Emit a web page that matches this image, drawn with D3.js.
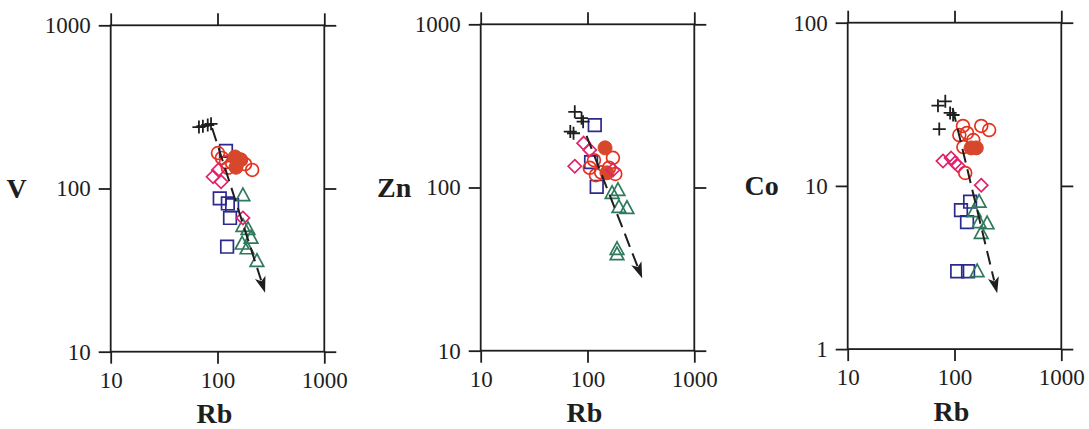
<!DOCTYPE html>
<html>
<head>
<meta charset="utf-8">
<script src="https://cdn.jsdelivr.net/npm/d3@7"></script>
<style>
  body { margin: 0; background: #fff; }
  svg { display: block; }
</style>
</head>
<body>
<svg id="chart"></svg>
<script>
// Tick labels
const rbTicks = [10, 100, 1000];
const vTicks = [10, 100, 1000];
const znTicks = [10, 100, 1000];
const coTicks = [1, 10, 100];

// V vs Rb  ([Rb, V])
const vPlus = [[67, 238], [73, 241], [81, 245], [87, 249]];
const vSquare = [[120, 170], [105, 87], [125, 81], [137, 79], [131, 66], [123, 44]];
const vCircle = [[101, 165], [110, 154], [120, 145], [137, 143], [166, 150], [181, 141], [211, 130], [125, 134]];
const vDot = [[146, 156], [162, 150], [149, 135]];
const vDiamond = [[102, 130], [91, 118], [108, 110], [173, 66]];
const vTriangle = [[173, 91], [173, 59], [193, 56.5], [206, 50], [170, 46], [189, 43], [234, 36]];
const vTrend = [[89, 235], [279, 23]];

// Zn vs Rb  ([Rb, Zn])
const znPlus = [[76, 291], [88, 266], [91, 253], [69, 220], [74, 215]];
const znSquare = [[117, 241], [108, 143], [122, 101]];
const znCircle = [[115, 147], [173, 152], [159, 132], [120, 119], [134, 124], [182, 121], [105, 132]];
const znDot = [[146, 175], [152, 123]];
const znDiamond = [[92, 187], [105, 170], [76, 135], [173, 128]];
const znTriangle = [[170, 92.5], [193, 96.5], [197, 76], [234, 75], [189, 42], [189, 39]];
const znTrend = [[98, 207], [325, 27.8]];

// Co vs Rb  ([Rb, Co])
const coPlus = [[70, 31], [82, 33], [91, 28], [97, 27.2], [72, 22.3]];
const coSquare = [[140, 8], [115, 7.1], [131, 6], [106, 3], [134, 3]];
const coCircle = [[120, 23.3], [178, 23.3], [211, 22], [111, 20.5], [131, 21.1], [150, 19.1], [121, 17.3], [126, 12]];
const coDot = [[143, 17.1], [160, 17.1]];
const coDiamond = [[78, 14.2], [93, 14.8], [101, 13.8], [108, 13.3], [178, 10.1]];
const coTriangle = [[170, 8], [153, 7], [170, 6], [202, 5.9], [178, 5.15], [163, 3]];
const coTrend = [[96, 30], [251, 2.2]];

const FONT = "Liberation Serif, serif";
const INK = "#1e1e1e";
const plotW = 213.6;
const plotH = 326.4;
const tickLen = 12;

const panels = [
  { left: 110.7, top: 25.3, ticks: vTicks, label: "V", labelDx: -94,
    plus: vPlus, square: vSquare, circle: vCircle, dot: vDot, diamond: vDiamond, triangle: vTriangle, trend: vTrend },
  { left: 480.7, top: 24.3, ticks: znTicks, label: "Zn", labelDx: -86.5,
    plus: znPlus, square: znSquare, circle: znCircle, dot: znDot, diamond: znDiamond, triangle: znTriangle, trend: znTrend },
  { left: 847.7, top: 22.7, ticks: coTicks, label: "Co", labelDx: -86,
    plus: coPlus, square: coSquare, circle: coCircle, dot: coDot, diamond: coDiamond, triangle: coTriangle, trend: coTrend },
];

const svg = d3.select("#chart").attr("width", 1089).attr("height", 429);

// marker shapes
const squarePath = (s) => `M${-s},${-s}H${s}V${s}H${-s}Z`;
const diamondPath = (s) => `M0,${-s}L${s},0L0,${s}L${-s},0Z`;
const trianglePath = (s) => `M0,${-s * 1.05}L${s},${s * 0.8}L${-s},${s * 0.8}Z`;
const plusPath = (s) => `M${-s},0H${s}M0,${-s}V${s}`;

panels.forEach((p) => {
  const g = svg.append("g").attr("transform", `translate(${p.left},${p.top})`);

  const x = d3.scaleLog().domain([10, 1000]).range([0, plotW]);
  const y = d3.scaleLog().domain([p.ticks[0], p.ticks[2]]).range([plotH, 0]);

  const styleAxis = (sel) => {
    sel.select(".domain").remove();
    sel.selectAll(".tick line").attr("stroke", INK).attr("stroke-width", 1.8);
    sel.selectAll("text").attr("fill", INK);
    sel.attr("font-family", FONT).attr("font-size", 23);
  };

  g.append("g")
    .call(d3.axisLeft(y).tickValues(p.ticks).tickSize(tickLen).tickPadding(8).tickFormat(d3.format("d")))
    .call(styleAxis);
  g.append("g")
    .attr("transform", `translate(${plotW},0)`)
    .call(d3.axisRight(y).tickValues(p.ticks).tickSize(tickLen).tickFormat(""))
    .call(styleAxis);
  g.append("g")
    .attr("transform", `translate(0,${plotH})`)
    .call(d3.axisBottom(x).tickValues(rbTicks).tickSize(tickLen).tickPadding(8).tickFormat(d3.format("d")))
    .call(styleAxis);
  g.append("g")
    .call(d3.axisTop(x).tickValues(rbTicks).tickSize(tickLen).tickFormat(""))
    .call(styleAxis);

  g.append("rect")
    .attr("width", plotW)
    .attr("height", plotH)
    .attr("fill", "none")
    .attr("stroke", INK)
    .attr("stroke-width", 1.8);

  // axis titles
  g.append("text")
    .attr("x", plotW / 2 - 3)
    .attr("y", plotH + 71.5)
    .attr("text-anchor", "middle")
    .attr("font-family", FONT)
    .attr("font-size", 28)
    .attr("font-weight", "bold")
    .attr("fill", INK)
    .text("Rb");
  g.append("text")
    .attr("x", p.labelDx)
    .attr("y", plotH / 2 + 9.5)
    .attr("text-anchor", "middle")
    .attr("font-family", FONT)
    .attr("font-size", 28)
    .attr("font-weight", "bold")
    .attr("fill", INK)
    .text(p.label);

  const pos = (d) => `translate(${x(d[0])},${y(d[1])})`;

  g.selectAll(".sq").data(p.square).enter().append("path")
    .attr("class", "sq").attr("transform", pos).attr("d", squarePath(6.3))
    .attr("fill", "none").attr("stroke", "#2c2a8c").attr("stroke-width", 1.7);

  g.selectAll(".tri").data(p.triangle).enter().append("path")
    .attr("class", "tri").attr("transform", pos).attr("d", trianglePath(6.8))
    .attr("fill", "none").attr("stroke", "#2f7a5c").attr("stroke-width", 1.7);

  g.selectAll(".circ").data(p.circle).enter().append("circle")
    .attr("class", "circ").attr("cx", (d) => x(d[0])).attr("cy", (d) => y(d[1])).attr("r", 6.4)
    .attr("fill", "none").attr("stroke", "#e5321f").attr("stroke-width", 1.7);

  g.selectAll(".dot").data(p.dot).enter().append("circle")
    .attr("class", "dot").attr("cx", (d) => x(d[0])).attr("cy", (d) => y(d[1])).attr("r", 7)
    .attr("fill", "#d6472b").attr("stroke", "#d6472b").attr("stroke-width", 1);

  g.selectAll(".dia").data(p.diamond).enter().append("path")
    .attr("class", "dia").attr("transform", pos).attr("d", diamondPath(6.6))
    .attr("fill", "none").attr("stroke", "#e3226c").attr("stroke-width", 1.7);

  g.selectAll(".plus").data(p.plus).enter().append("path")
    .attr("class", "plus").attr("transform", pos).attr("d", plusPath(6.5))
    .attr("fill", "none").attr("stroke", INK).attr("stroke-width", 1.8);

  // dashed trend arrow
  const [x0, y0] = [x(p.trend[0][0]), y(p.trend[0][1])];
  const [x1, y1] = [x(p.trend[1][0]), y(p.trend[1][1])];
  const len = Math.hypot(x1 - x0, y1 - y0);
  const ux = (x1 - x0) / len;
  const uy = (y1 - y0) / len;
  const headLen = 16;
  const headW = 5.5;
  g.append("line")
    .attr("x1", x0).attr("y1", y0)
    .attr("x2", x1 - ux * (headLen - 3)).attr("y2", y1 - uy * (headLen - 3))
    .attr("stroke", INK).attr("stroke-width", 2)
    .attr("stroke-dasharray", "14,7");
  const bx = x1 - ux * headLen;
  const by = y1 - uy * headLen;
  const nx = x1 - ux * (headLen - 4);
  const ny = y1 - uy * (headLen - 4);
  g.append("path")
    .attr("d", `M${x1},${y1}L${bx - uy * headW},${by + ux * headW}L${nx},${ny}L${bx + uy * headW},${by - ux * headW}Z`)
    .attr("fill", INK);
});
</script>
</body>
</html>
